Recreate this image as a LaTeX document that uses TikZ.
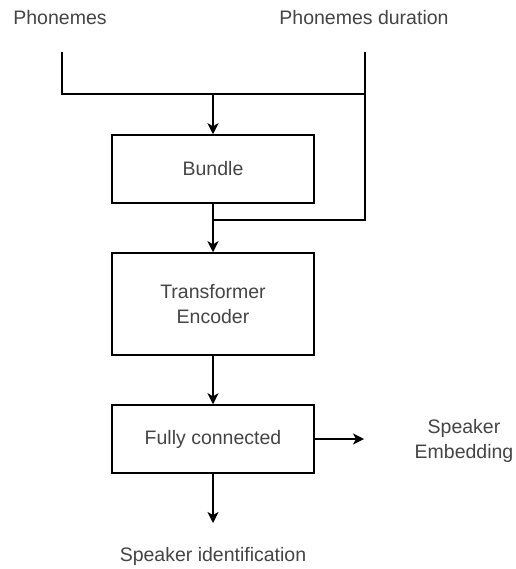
\documentclass[tikz,border=0pt]{standalone}
\usepackage{fontspec}
\setmainfont{Liberation Sans}
\usetikzlibrary{arrows.meta}
\definecolor{txt}{HTML}{444444}
\tikzset{
  box/.style={draw, line width=1.5pt, minimum width=202pt, inner sep=0pt, align=center, text=txt},
  lbl/.style={inner sep=0pt, align=center, text=txt},
  ln/.style={line width=1.5pt},
  arr/.style={line width=1.5pt, -{Stealth[length=11pt,width=11pt,inset=3pt]}}
}
\begin{document}
\begin{tikzpicture}[x=1pt,y=-1pt, font=\fontsize{19.5}{24}\selectfont]
\useasboundingbox (0,0) rectangle (515,569);
\node[lbl] (ph) at (60,18) {Phonemes};
\node[lbl] (pd) at (364,18) {Phonemes duration};
\node[box, minimum height=68pt] (bundle) at (213,169) {Bundle};
\node[box, minimum height=102pt] (trans) at (213,304) {Transformer\\[1pt]Encoder};
\node[box, minimum height=68pt] (fc) at (213,439) {Fully connected};
\node[lbl] (emb) at (464,441) {Speaker\\[1pt]Embedding};
\node[lbl] (sid) at (213,556) {Speaker identification};
\coordinate (pstart) at (62,52);
\coordinate (dstart) at (365,52);
\coordinate (j1) at (213,94);
\coordinate (j2) at (213,220);
\coordinate (embend) at (364,439);
\coordinate (sidend) at (213,523);
\draw[ln] (pstart) |- (dstart |- j1);
\draw[ln] (dstart) |- (j2);
\draw[arr] (j1) -- (bundle.north);
\draw[arr] (bundle.south) -- (trans.north);
\draw[arr] (trans.south) -- (fc.north);
\draw[arr] (fc.east) -- (embend);
\draw[arr] (fc.south) -- (sidend);
\end{tikzpicture}
\end{document}
